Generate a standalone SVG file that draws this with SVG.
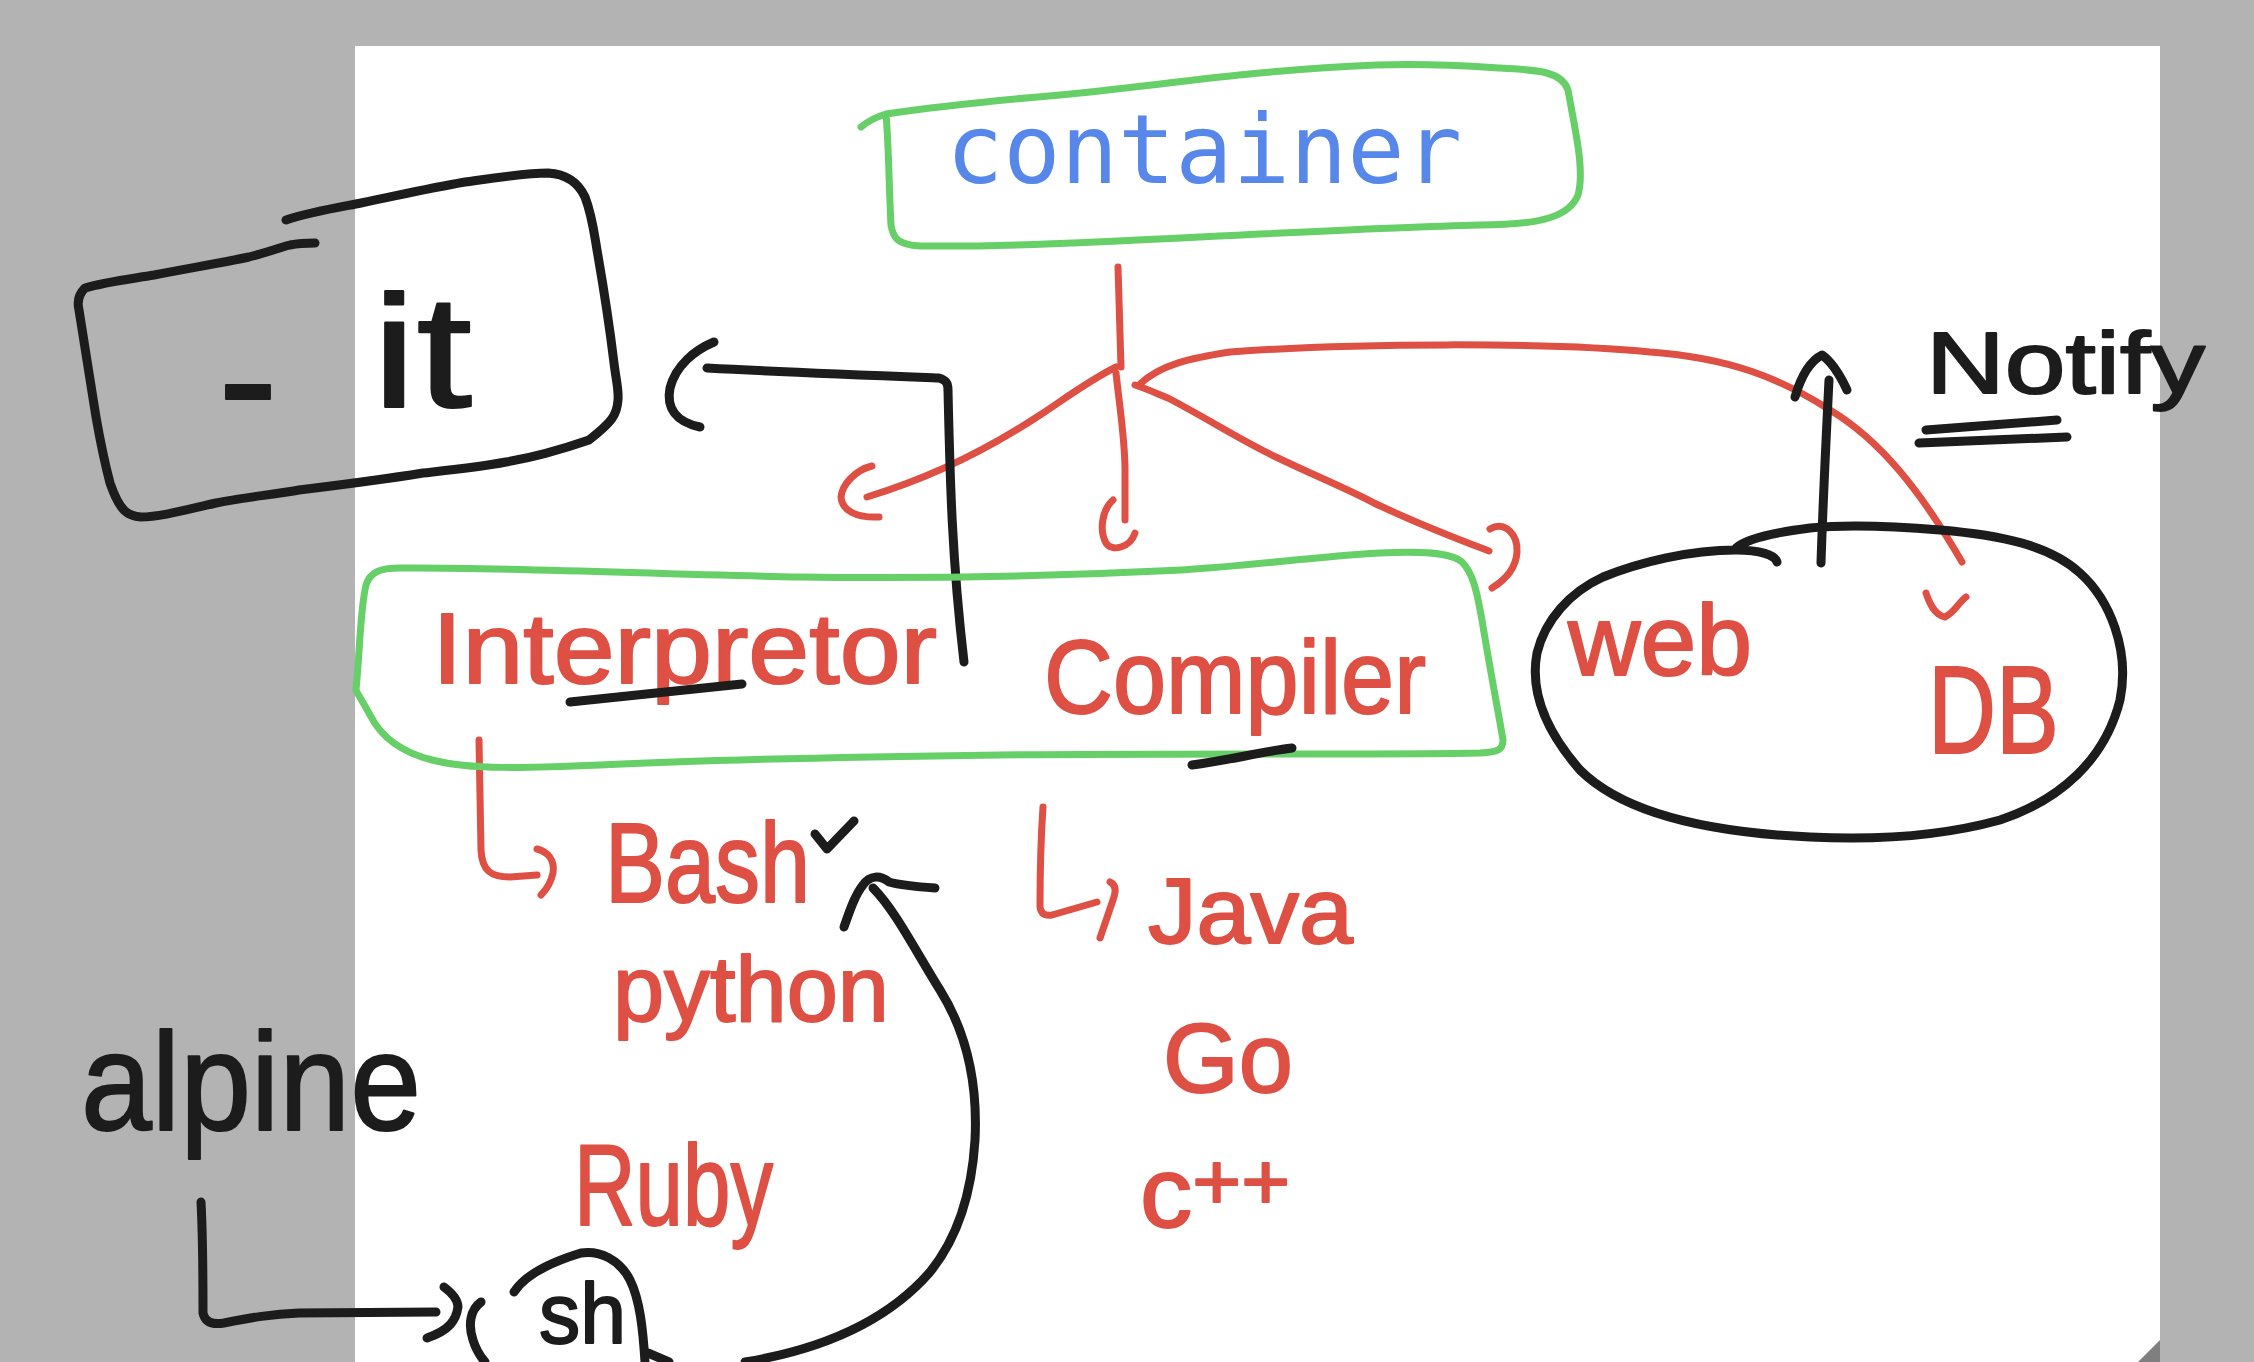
<svg xmlns="http://www.w3.org/2000/svg" width="2254" height="1362" viewBox="0 0 2254 1362">
<style>
.g{fill:none;stroke:#67cf67;stroke-width:7;stroke-linecap:round;stroke-linejoin:round}
.r{fill:none;stroke:#de5044;stroke-width:7;stroke-linecap:round;stroke-linejoin:round}
.k{fill:none;stroke:#1c1c1c;stroke-width:9;stroke-linecap:round;stroke-linejoin:round}
.tr{font-family:"Liberation Sans",Arial,sans-serif;fill:#de5044;stroke:#de5044;stroke-width:2;stroke-linejoin:round}
.tk{font-family:"Liberation Sans",Arial,sans-serif;fill:#1c1c1c;stroke:#1c1c1c;stroke-width:2;stroke-linejoin:round}
.tb{font-family:"DejaVu Sans Mono","Liberation Mono",monospace;fill:#5887ea}
</style>
<rect x="0" y="0" width="2254" height="1362" fill="#b3b3b3"/>
<rect x="355" y="46" width="1805" height="1316" fill="#ffffff"/>
<polygon points="2138,1362 2160,1340 2160,1362" fill="#7f7f7f"/>

<g id="connectors">
  <path class="r" d="M1118,267 L1121,367"/>
  <path class="r" d="M1116,367 C1090,380 1070,395 1040,415 C990,448 930,478 867,497"/>
  <path class="r" d="M872,466 C855,470 842,485 841,497 C842,510 855,518 879,517"/>
  <path class="r" d="M1116,373 C1120,410 1125,440 1125,470 L1125,520"/>
  <path class="r" d="M1113,500 C1102,510 1099,530 1106,543 C1112,552 1130,548 1135,533"/>
  <path class="r" d="M1135,385 C1150,390 1160,395 1168,398 C1210,420 1240,440 1278,458 C1320,478 1350,490 1374,503 C1420,525 1460,540 1489,551"/>
  <path class="r" d="M1490,529 C1505,520 1518,535 1517,552 C1516,568 1505,580 1492,588"/>
  <path class="r" d="M1140,384 C1160,365 1190,358 1230,352 C1350,343 1550,342 1650,352 C1730,358 1780,378 1830,410 C1880,440 1920,490 1962,562"/>
  <path class="r" d="M1926,593 C1930,605 1935,615 1945,617 C1955,612 1958,603 1966,597"/>
  <path class="k" d="M714,342 C695,350 676,365 670,388 C666,408 676,422 700,427"/>
  <path class="k" d="M707,368 C780,372 860,375 939,378 C946,380 948,383 948,390 C950,480 952,560 964,662"/>
  <path class="r" d="M479,740 L481,850 C482,870 490,877 510,877 L537,875"/>
  <path class="r" d="M537,849 C548,852 555,860 553,873 C551,882 546,890 541,895"/>
  <path class="r" d="M1043,807 C1040,850 1040,880 1040,907 C1041,914 1045,916 1052,915 L1097,902"/>
  <path class="r" d="M1110,882 C1117,885 1116,892 1113,900 L1100,938"/>
  <path class="k" d="M1821,563 C1823,500 1826,440 1829,380"/>
  <path class="k" stroke-width="11" d="M1795,397 C1800,380 1808,362 1822,355 C1832,362 1840,375 1847,390"/>
  <path class="k" d="M745,1362 C830,1348 890,1318 930,1272 C960,1235 972,1190 975,1140 C978,1080 965,1030 940,990 C915,950 895,910 873,888"/>
  <path class="k" stroke-width="11" d="M844,927 C850,910 855,895 863,885 C870,875 880,875 889,882 C900,885 920,887 935,888"/>
  <path class="k" d="M201,1202 C203,1240 203,1280 203,1313 C205,1322 212,1325 224,1323 C250,1318 270,1314 299,1313 L436,1312"/>
  <path class="k" d="M444,1287 C452,1293 458,1300 458,1307 C456,1320 450,1330 427,1338"/>
</g>

<g id="container">
  <path class="g" d="M861,127 Q872,118 886,114 C940,106 1000,100 1060,95 C1150,87 1250,70 1376,65 C1430,63 1470,66 1500,68 C1540,70 1562,72 1568,90 C1575,130 1585,170 1578,195 C1570,215 1545,225 1480,225 C1400,227 1300,232 1200,237 C1100,242 1000,247 920,246 C898,245 893,238 891,225 C889,190 889,150 886,114"/>
  <text class="tb" x="946" y="183" font-size="96" textLength="516" lengthAdjust="spacingAndGlyphs">container</text>
</g>

<g id="it-flag">
  <path class="k" stroke-width="10" d="M286,220 C310,212 335,208 361,203 C400,195 430,188 465,182 C500,177 525,173 548,173 C565,174 578,182 585,197 C592,215 594,232 597,250 C604,290 610,330 614,363 C616,380 619,390 618,400 C617,415 612,422 589,440 C560,450 530,458 506,462 C480,467 450,470 423,473 C380,480 340,485 299,490 C270,495 240,498 216,503 C185,510 160,517 141,517 C128,516 120,512 110,483 C104,460 100,440 96,417 C90,380 84,340 79,310 C77,302 78,295 85,288 C105,282 130,279 154,275 C190,268 220,263 249,257 C265,253 278,248 290,245 C300,243 308,243 315,243"/>
  <text class="tk" font-size="160"><tspan x="218" y="440" font-size="180">-</tspan><tspan x="372" y="407" textLength="100" lengthAdjust="spacingAndGlyphs">it</tspan></text>
</g>

<g id="runtime-box">
  <path class="g" d="M356,690 C360,650 360,610 366,585 C370,572 380,568 400,568 C500,567 650,574 800,577 C950,579 1080,575 1182,570 C1260,565 1310,557 1380,553 C1420,551 1450,552 1462,562 C1475,575 1478,600 1482,620 C1490,670 1498,710 1503,740 C1503,750 1498,752 1480,753 C1400,755 1200,753 1000,755 C850,757 700,760 600,765 C530,768 470,770 432,760 C400,752 380,735 370,715 C362,700 358,695 356,690"/>
  <text class="tr" x="432" y="683" font-size="100" textLength="505" lengthAdjust="spacingAndGlyphs">Interpretor</text>
  <path class="k" stroke-width="10" d="M570,702 C620,697 680,690 742,684"/>
  <text class="tr" x="1044" y="713" font-size="104" textLength="382" lengthAdjust="spacingAndGlyphs">Compiler</text>
  <path class="k" stroke-width="10" d="M1192,765 C1230,760 1260,752 1292,748"/>
</g>

<g id="web-db">
  <path class="k" d="M1777,562 C1775,555 1760,550 1736,550 C1690,550 1640,562 1603,577 C1570,592 1545,620 1537,653 C1530,690 1545,730 1580,770 C1620,810 1700,832 1810,837 C1870,840 1935,838 2000,820 C2060,800 2105,760 2120,700 C2130,650 2110,600 2080,573 C2050,545 2000,535 1940,530 C1880,525 1840,525 1810,528 C1770,533 1745,540 1736,548"/>
  <text class="tr" x="1568" y="675" font-size="100" textLength="184" lengthAdjust="spacingAndGlyphs">web</text>
  <text class="tr" x="1928" y="753" font-size="125" textLength="131" lengthAdjust="spacingAndGlyphs">DB</text>
</g>

<g id="notify">
  <text class="tk" x="1926" y="393" font-size="88" textLength="279" lengthAdjust="spacingAndGlyphs">Notify</text>
  <path class="k" stroke-width="10" d="M1926,430 L2057,420"/>
  <path class="k" stroke-width="10" d="M1919,443 L2067,437"/>
</g>

<g id="interpreted-langs">
  <text class="tr" x="605" y="902" font-size="113" textLength="205" lengthAdjust="spacingAndGlyphs">Bash</text>
  <path class="k" stroke-width="8" d="M815,834 L827,849 L854,821"/>
  <text class="tr" x="613" y="1021" font-size="92" textLength="276" lengthAdjust="spacingAndGlyphs">python</text>
  <text class="tr" x="574" y="1225" font-size="115" textLength="199" lengthAdjust="spacingAndGlyphs">Ruby</text>
</g>

<g id="compiled-langs">
  <text class="tr" x="1148" y="943" font-size="92" textLength="205" lengthAdjust="spacingAndGlyphs">Java</text>
  <text class="tr" x="1163" y="1092" font-size="98" textLength="130" lengthAdjust="spacingAndGlyphs">Go</text>
  <text class="tr" x="1140" y="1227" font-size="100" textLength="150" lengthAdjust="spacingAndGlyphs">c<tspan dy="-18" font-size="80">++</tspan></text>
</g>

<g id="alpine">
  <text class="tk" x="81" y="1130" font-size="140" textLength="340" lengthAdjust="spacingAndGlyphs">alpine</text>
</g>

<g id="sh">
  <path class="k" d="M514,1292 C525,1275 548,1263 581,1253 C600,1250 620,1260 630,1280 C640,1300 643,1330 645,1362"/>
  <path class="k" d="M481,1302 C470,1310 468,1325 473,1340 C476,1350 480,1356 485,1362"/>
  <path class="k" d="M648,1353 L669,1362"/>
  <text class="tk" x="539" y="1343" font-size="85" textLength="87" lengthAdjust="spacingAndGlyphs">sh</text>
</g>
</svg>
